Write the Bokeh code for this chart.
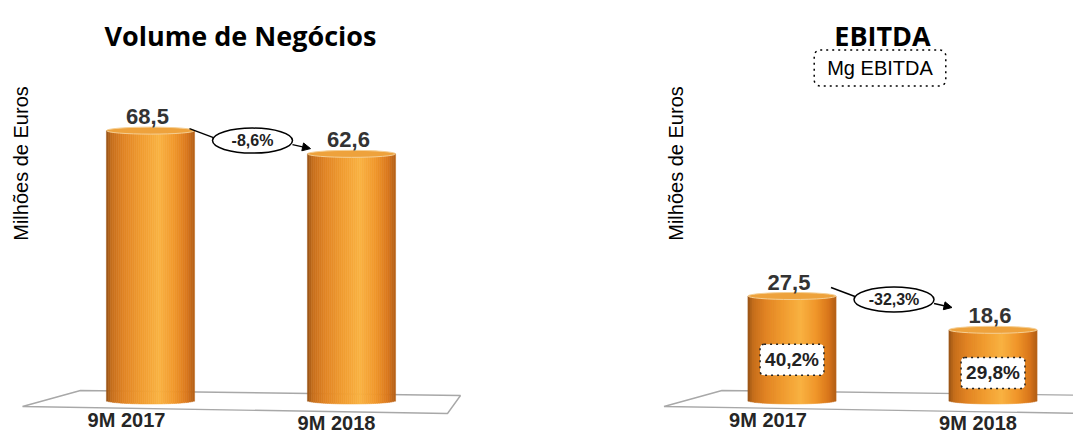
import math
import numpy as np
from bokeh.plotting import figure
from bokeh.models import ColumnDataSource, Range1d, Label, Arrow, NormalHead
from bokeh.layouts import row
from bokeh.embed import file_html
from bokeh.resources import INLINE
from bokeh.core.properties import value

# ---------------- data ----------------
categories = ["9M 2017", "9M 2018"]
volume_negocios = [68.5, 62.6]
ebitda = [27.5, 18.6]
ebitda_margin = ["40,2%", "29,8%"]
change_volume = "-8,6%"
change_ebitda = "-32,3%"
title_left = "Volume de Negócios"
title_right = "EBITDA"
y_label = "Milhões de Euros"
margin_legend = "Mg EBITDA"

# ---------------- layout constants ----------------
FIG_H = 432
STEP_PX = 201        # pixels between the two categories
BAR_W_PX = 88
CAP_H_PX = 7
BASE_PX = 32         # pixels from canvas bottom to bar base
N_STRIPS = 44

STOPS = [
    (0.00, (150, 82, 22)),
    (0.06, (198, 110, 28)),
    (0.20, (225, 132, 36)),
    (0.40, (240, 156, 48)),
    (0.60, (249, 178, 66)),
    (0.78, (240, 150, 42)),
    (0.92, (216, 118, 28)),
    (1.00, (180, 95, 22)),
]


def grad(t):
    for (t0, c0), (t1, c1) in zip(STOPS[:-1], STOPS[1:]):
        if t0 <= t <= t1:
            f = (t - t0) / (t1 - t0)
            c = [round(a + (b - a) * f) for a, b in zip(c0, c1)]
            return "#%02x%02x%02x" % tuple(c)
    return "#%02x%02x%02x" % STOPS[-1][1]


def fmt(v):
    return f"{v:.1f}".replace(".", ",")


def make_panel(width, first_px, px_per_val, vals, title, title_x, ylab_x,
               change, ell_dy, margins=None):
    sx = 1.0 / STEP_PX
    sy = 1.0 / px_per_val
    p = figure(width=width, height=FIG_H,
               x_range=Range1d(-first_px * sx, (width - first_px) * sx),
               y_range=Range1d(-BASE_PX * sy, (FIG_H - BASE_PX) * sy),
               x_axis_type=None, y_axis_type=None,
               toolbar_location=None, output_backend="svg",
               min_border=0, outline_line_color=None,
               background_fill_color="white", border_fill_color="white")
    xs = np.arange(len(vals), dtype=float)

    # floor (parallelogram)
    floor_px = [(-128, -6), (-70, 10), (310, 5), (297, -13)]
    p.patch([a * sx for a, _ in floor_px], [b * sy for _, b in floor_px],
            fill_color="white", line_color="#a8a8a8", line_width=1.4)

    # cylinders made of gradient strips
    w = BAR_W_PX * sx
    cap_h = CAP_H_PX * sy
    sx_l, sb, st, sc = [], [], [], []
    for j, v in enumerate(vals):
        for i in range(N_STRIPS):
            t = (i + 0.5) / N_STRIPS
            dx = (t - 0.5) * w
            r = max(0.0, 1 - (2 * dx / w) ** 2)
            sx_l.append(xs[j] + dx)
            sb.append(-cap_h / 2 * math.sqrt(r))
            st.append(v)
            sc.append(grad(t))
    src = ColumnDataSource(dict(x=sx_l, bottom=sb, top=st, color=sc))
    p.vbar(x="x", width=w / N_STRIPS * 1.08, bottom="bottom", top="top",
           fill_color="color", line_color="color", line_width=0.5, source=src)
    p.ellipse(x=xs, y=vals, width=w, height=cap_h, fill_color="#eea23c",
              line_color="#f5cf94", line_width=1)

    # value labels
    p.text(x=xs, y=vals, text=[fmt(v) for v in vals], x_offset=-3, y_offset=-14,
           text_align="center", text_baseline="alphabetic",
           text_font=value("Liberation Sans"), text_font_style="bold",
           text_font_size="22px", text_color="#333333")

    # category labels
    csrc = ColumnDataSource(dict(x=xs + np.array([-24 * sx, -15 * sx]),
                                 y=[0, 0], t=categories, yo=[19, 22]))
    p.text(x="x", y="y", text="t", y_offset="yo", source=csrc,
           text_align="center", text_baseline="alphabetic",
           text_font=value("Liberation Sans"), text_font_style="bold",
           text_font_size="20px", text_color="#262626")

    # change annotation
    mid = 0.5 + 1.5 * sx
    ey = max(vals) + ell_dy * sy
    p.line([mid - 63 * sx, mid - 39 * sx], [ey + 12 * sy, ey + 3 * sy],
           line_color="black", line_width=1.4)
    p.add_layout(Arrow(end=NormalHead(size=8, fill_color="black", line_color="black"),
                       x_start=mid + 40 * sx, y_start=ey - 4 * sy,
                       x_end=mid + 58 * sx, y_end=ey - 8 * sy,
                       line_color="black", line_width=1.4))
    p.ellipse(x=[mid], y=[ey], width=80, height=25, width_units="screen",
              height_units="screen", fill_color="white", line_color="black",
              line_width=1.5)
    p.text(x=[mid], y=[ey], text=[change], text_align="center",
           text_baseline="middle", text_font=value("Liberation Sans"),
           text_font_style="bold", text_font_size="16px", text_color="#222222")

    # margin boxes
    if margins is not None:
        p.text(x=xs, y=[0.39 * v for v in vals], text=margins,
               text_align="center", text_baseline="middle",
               text_font=value("Liberation Sans"), text_font_style="bold",
               text_font_size="19px", text_color="#222222",
               background_fill_color="white", border_line_color="#222222",
               border_line_dash="dotted", border_line_width=1.5,
               padding=5, border_radius=4)

    # title and y label
    p.add_layout(Label(x=title_x, y=397, x_units="screen", y_units="screen",
                       text=title, text_align="center", text_baseline="alphabetic",
                       text_font="Open Sans", text_font_style="bold",
                       text_font_size="27px", text_color="black"))
    p.add_layout(Label(x=ylab_x, y=269, x_units="screen", y_units="screen",
                       text=y_label, angle=math.pi / 2, text_align="center",
                       text_baseline="middle", text_font="Liberation Sans",
                       text_font_size="20px", text_color="black"))
    return p


p1 = make_panel(540, 150, 3.94, volume_negocios, title_left, 240, 20,
                change_volume, -10)
p2 = make_panel(533, 251.5, 3.8, ebitda, title_right, 342, 135,
                change_ebitda, -3.5, margins=ebitda_margin)
p2.add_layout(Label(x=339.5, y=364.5, x_units="screen", y_units="screen",
                    text=margin_legend, text_align="center", text_baseline="middle",
                    text_font="Liberation Sans", text_font_size="20px",
                    text_color="black", background_fill_color="white",
                    border_line_color="black", border_line_dash="dotted",
                    border_line_width=1.5, padding=(13, 7), border_radius=6))

layout = row(p1, p2)
open("out.html", "w").write(file_html(layout, INLINE))
